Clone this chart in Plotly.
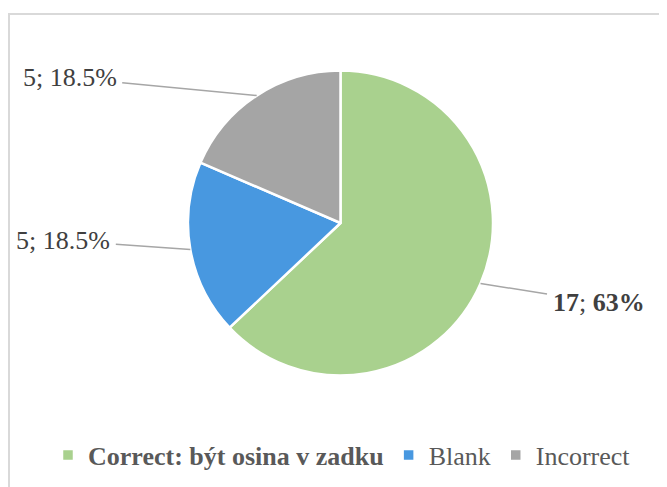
import math
import plotly.graph_objects as go

# ---- data ----
categories = ["Correct: být osina v zadku", "Blank", "Incorrect"]
counts = [17, 5, 5]
pct_text = ["63%", "18.5%", "18.5%"]

# ---- style ----
OFF = 8                                   # default page body margin
W, H = 667 - OFF, 487 - OFF
colors = ["#a9d18e", "#4898e0", "#a5a5a5"]
cx, cy, R = 340.5 - OFF, 223.0 - OFF, 152.5      # pie centre / radius (figure px)
label_offsets = [(118, 19), (-127, -9), (-187, -18)]  # label centre relative to rim point
FONT = "Liberation Serif"

fig = go.Figure()
legend_labels = ["<b>" + categories[0] + "</b>"] + categories[1:]
fig.add_trace(go.Pie(
    labels=legend_labels,
    values=counts,
    sort=False,
    direction="clockwise",
    rotation=0,
    textinfo="none",
    hoverinfo="label+value+percent",
    marker=dict(colors=colors, line=dict(color="white", width=2.5)),
    domain=dict(x=[(cx - R) / W, (cx + R) / W],
                y=[1 - (cy + R) / H, 1 - (cy - R) / H]),
))

# data labels with leader lines, anchored at slice mid-angle on the rim
total = sum(counts)
cum = 0
for i, v in enumerate(counts):
    mid = (cum + v / 2) / total * 2 * math.pi
    cum += v
    ex = cx + R * math.sin(mid)
    ey = cy - R * math.cos(mid)
    if i == 0:
        txt = f"<b>{v}</b>; <b>{pct_text[i]}</b>"
    else:
        txt = f"{v}; {pct_text[i]}"
    ax, ay = label_offsets[i]
    fig.add_annotation(
        x=ex / W, y=1 - ey / H, xref="paper", yref="paper",
        text=txt, showarrow=True, arrowhead=0, arrowwidth=1.5,
        arrowcolor="#a6a6a6", ax=ax, ay=ay, standoff=0, startstandoff=0,
        borderpad=5,
        font=dict(family=FONT, size=26, color="#404040"),
    )

# chart-area frame (cropped at right & bottom in the reference)
fig.add_shape(type="rect", xref="paper", yref="paper",
              x0=1 / W, x1=1.05, y0=-0.05, y1=1 - (14 - OFF) / H,
              line=dict(color="#d9d9d9", width=2), fillcolor="rgba(0,0,0,0)")

fig.update_layout(
    width=W, height=H,
    margin=dict(l=0, r=0, t=0, b=0),
    paper_bgcolor="white", plot_bgcolor="white",
    showlegend=True,
    legend=dict(orientation="h", x=(342 - OFF) / W, xanchor="center",
                y=1 - (455 - OFF) / H, yanchor="middle",
                font=dict(family=FONT, size=26, color="#595959"),
                itemwidth=30, tracegroupgap=0),
    font=dict(family=FONT),
)

fig.write_html("out.html")
